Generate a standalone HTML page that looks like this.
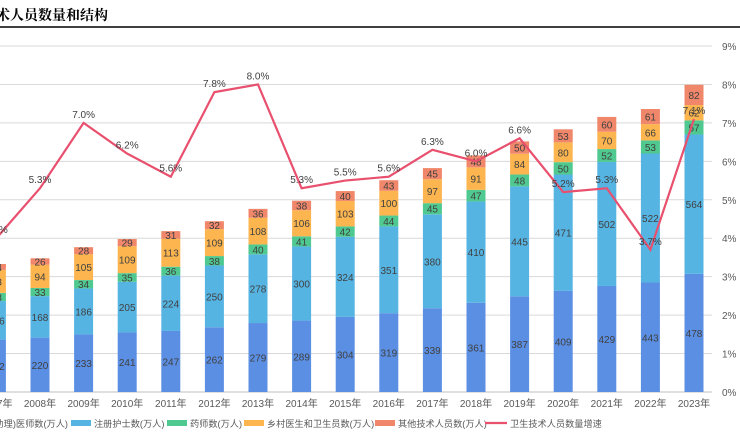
<!DOCTYPE html>
<html><head><meta charset="utf-8"><style>
body{margin:0;width:740px;height:440px;overflow:hidden;background:#fff;font-family:"Liberation Sans","Noto Sans CJK SC",sans-serif}
</style></head><body>
<svg width="740" height="440" xmlns="http://www.w3.org/2000/svg">
<text x="-4" y="20" font-size="14" font-weight="bold" fill="#000" font-family="Noto Serif CJK SC, serif">术人员数量和结构</text>
<line x1="0" y1="27" x2="740" y2="27" stroke="#000" stroke-width="1.5"/>
<g id="grid"></g><g id="bars"></g><g id="line"></g><g id="axis"></g><g id="legend"></g>
</svg>
<script>
const years=['2007年','2008年','2009年','2010年','2011年','2012年','2013年','2014年','2015年','2016年','2017年','2018年','2019年','2020年','2021年','2022年','2023年'];
const doctors=[212,220,233,241,247,262,279,289,304,319,339,361,387,409,429,443,478];
const nurses=[156,168,186,205,224,250,278,300,324,351,380,410,445,471,502,522,564];
const pharm=[33,33,34,35,36,38,40,41,42,44,45,47,48,50,52,53,57];
const rural=[93,94,105,109,113,109,108,106,103,100,97,91,84,80,70,66,62];
const others=[24,26,28,29,31,32,36,38,40,43,45,48,50,53,60,61,82];
const growth=[4.0,5.3,7.0,6.2,5.6,7.8,8.0,5.3,5.5,5.6,6.3,6.0,6.6,5.2,5.3,3.7,7.1];
const rightTicks=['0%','1%','2%','3%','4%','5%','6%','7%','8%','9%'];
const NS='http://www.w3.org/2000/svg';
const y0=392,yTop=46;
const yL=v=>y0-v*(y0-yTop)/1400;
const yR=p=>y0-p*(y0-yTop)/9;
const xC=i=>-3.6+i*43.6;
function mk(t,a,p){const e=document.createElementNS(NS,t);for(const k in a)e.setAttribute(k,a[k]);p.appendChild(e);return e;}
const G=document.getElementById('grid');
for(let i=0;i<rightTicks.length;i++){
 const l=mk('line',{x1:0,x2:712,y1:yR(i),y2:yR(i),stroke:i?'#d9d9d9':'#bfbfbf','stroke-width':1},G);
 
 
 const t=mk('text',{x:722,y:yR(i)+4,'font-size':10,fill:'#595959'},G);t.textContent=rightTicks[i];
 
 
}
const series=[[doctors,'#5b8fe3','doctors'],[nurses,'#56b4e3','nurses'],[pharm,'#4fc98f','pharmacists'],[rural,'#fdb54f','rural-doctors'],[others,'#f0876a','other-staff']];
const B=document.getElementById('bars');
years.forEach((yr,i)=>{
 let acc=0;
 series.forEach(([arr,c,n])=>{
  const v=arr[i];const yt=yL(acc+v),yb=yL(acc);
  const r=mk('rect',{x:xC(i)-9.5,y:yt,width:19,height:yb-yt,fill:c},B);
  
  
  const t=mk('text',{x:xC(i),y:(yt+yb)/2+4,'font-size':10,fill:'#404040','text-anchor':'middle'},B);t.textContent=v;
  
  
  acc+=v;
 });
 const t=mk('text',{x:xC(i),y:407,'font-size':10,fill:'#595959','text-anchor':'middle'},B);t.textContent=yr;
 
 
});
const L=document.getElementById('line');
const pl=mk('polyline',{points:growth.map((g,i)=>xC(i)+','+yR(g)).join(' '),fill:'none',stroke:'#e8506e','stroke-width':2.2},L);


growth.forEach((g,i)=>{
 const t=mk('text',{x:xC(i),y:yR(g)-5,'font-size':10,fill:'#404040','text-anchor':'middle'},L);t.textContent=g.toFixed(1)+'%';
 
 
});
const LG=document.getElementById('legend');
const items=[[-60,'rect','#5b8fe3','执业(助理)医师数(万人)'],[71,'rect','#56b4e3','注册护士数(万人)'],[167,'rect','#4fc98f','药师数(万人)'],[244,'rect','#fdb54f','乡村医生和卫生员数(万人)'],[375,'rect','#f0876a','其他技术人员数(万人)'],[485,'line','#e8506e','卫生技术人员数量增速']];
items.forEach(([x,k,c,txt],idx)=>{
 const g=mk('g',{},LG);
 
 
 if(k==='rect')mk('rect',{x:x,y:420,width:20,height:6,fill:c},g);
 else mk('line',{x1:x,x2:x+22,y1:423,y2:423,stroke:c,'stroke-width':2.2},g);
 const attrs=idx===0?{x:68,y:427,'font-size':9.2,fill:'#595959','text-anchor':'end'}:{x:x+(k==='rect'?23:25),y:427,'font-size':9.2,fill:'#595959'};
 const t=mk('text',attrs,g);t.textContent=txt;
});
</script>
</body></html>
